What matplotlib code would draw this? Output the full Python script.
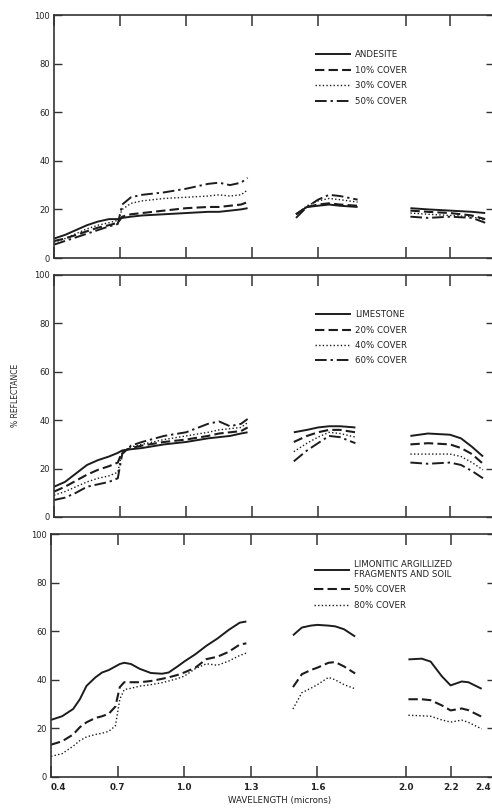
import numpy as np
import matplotlib
matplotlib.use("Agg")
import matplotlib.pyplot as plt

plt.rcParams['font.family'] = ['DejaVu Sans']

# ---- panel 1: andesite ----
p1_wl_a = [0.40, 0.45, 0.50, 0.55, 0.60, 0.65, 0.69, 0.71, 0.75, 0.80, 0.90, 1.00, 1.10, 1.15, 1.20, 1.25, 1.28]
p1_wl_b = [1.50, 1.55, 1.60, 1.65, 1.70, 1.78]
p1_wl_c = [2.02, 2.10, 2.20, 2.30, 2.36]
andesite = [[8, 9.5, 11.5, 13.5, 15, 16, 16, 16.5, 17, 17.5, 18, 18.5, 19, 19, 19.5, 20, 20.5],
            [18, 21, 21.5, 22, 21.5, 21],
            [20.5, 20, 19.5, 19, 18.5]]
andesite_10 = [[7, 8, 9.5, 11, 12.5, 13.5, 14.5, 17, 18, 18.5, 19.5, 20.5, 21, 21, 21.5, 22, 23],
               [18, 21, 22, 22.5, 22, 21.5],
               [19.5, 19, 18.5, 17.5, 16]]
andesite_30 = [[6.5, 8, 10, 12, 13.5, 14.5, 15.5, 20, 22.5, 23.5, 24.5, 25, 25.5, 26, 25.5, 26, 28],
               [18, 21.5, 23.5, 24.5, 24, 23],
               [18.5, 18, 17.5, 17, 15.5]]
andesite_50 = [[5.5, 7, 8.5, 10, 11.5, 13, 14, 22, 25, 26, 27, 28.5, 30.5, 31, 30, 31, 33],
               [16.5, 21, 24, 26, 25.5, 24],
               [17, 16.5, 17, 16.5, 14.5]]
p1_labels = ['ANDESITE', '10% COVER', '30% COVER', '50% COVER']

# ---- panel 2: limestone ----
p2_wl_a = [0.40, 0.45, 0.50, 0.55, 0.60, 0.65, 0.69, 0.71, 0.75, 0.80, 0.90, 1.00, 1.10, 1.15, 1.20, 1.25, 1.28]
p2_wl_b = [1.49, 1.55, 1.60, 1.65, 1.70, 1.77]
p2_wl_c = [2.02, 2.10, 2.20, 2.25, 2.30, 2.35]
limestone = [[12.5, 14.5, 18, 21.5, 23.5, 25, 26.5, 27.5, 28, 28.5, 30, 31, 32.5, 33, 33.5, 34.5, 35],
             [35, 36, 37, 37.5, 37.5, 37],
             [33.5, 34.5, 34, 32.5, 29, 25]]
limestone_20 = [[10.5, 12.5, 15, 17.5, 19.5, 21, 22.5, 27, 28.5, 29.5, 31, 32, 33.5, 34.5, 35, 35.5, 37],
                [31, 33.5, 35, 36, 36, 35],
                [30, 30.5, 30, 28.5, 26, 22]]
limestone_40 = [[9, 10.5, 12.5, 14.5, 16, 17, 18.5, 27, 29, 30, 32, 33.5, 35, 36, 36.5, 37, 39],
                [27, 30.5, 33, 35, 34.5, 33],
                [26, 26, 26, 25, 22.5, 19.5]]
limestone_60 = [[7, 8, 10, 12.5, 13.5, 14.5, 16, 26, 29.5, 31, 33.5, 35, 38.5, 39.5, 37.5, 38.5, 40.5],
                [23, 27.5, 30.5, 33.5, 33, 30.5],
                [22.5, 22, 22.5, 21.5, 19, 16]]
p2_labels = ['LIMESTONE', '20% COVER', '40% COVER', '60% COVER']

# ---- panel 3: limonitic argillized fragments ----
p3_wl_a = [0.40, 0.45, 0.50, 0.53, 0.56, 0.60, 0.63, 0.66, 0.69, 0.71, 0.73, 0.76, 0.80, 0.85,
           0.90, 0.93, 0.97, 1.00, 1.05, 1.10, 1.15, 1.20, 1.25, 1.28]
p3_wl_b = [1.49, 1.53, 1.57, 1.60, 1.65, 1.68, 1.72, 1.77]
p3_wl_c = [2.01, 2.07, 2.11, 2.16, 2.20, 2.25, 2.28, 2.34]
limonitic = [[23.5, 25, 28, 32, 37.5, 41, 43, 44, 45.5, 46.5, 47, 46.5, 44.5, 42.8,
              42.5, 43, 45.5, 47.5, 50.5, 54, 57, 60.5, 63.5, 64],
             [58.3, 61.5, 62.3, 62.6, 62.3, 62, 60.8, 57.8],
             [48.4, 48.7, 47.5, 41.5, 37.7, 39.3, 39, 36.3]]
limonitic_50 = [[13.3, 14.7, 17.5, 20.5, 22.5, 24.3, 25, 26, 29, 37, 39, 39, 39, 39.5,
                 40.4, 41, 42, 43, 45, 48.5, 49.5, 51.5, 54.5, 55],
                [37, 42.3, 44, 45, 47, 47.3, 45.5, 42.6],
                [32, 32, 31.6, 29.5, 27.4, 28.2, 27.5, 24.8]]
limonitic_80 = [[8.5, 9.6, 12.7, 15, 16.5, 17.5, 18, 18.8, 21, 32, 36, 36.5, 37.4, 38,
                 38.8, 39.5, 40.5, 41.5, 44.6, 46.6, 46, 47.7, 50, 51],
                [28, 34.7, 36.5, 38, 41, 40, 38, 36.3],
                [25.4, 25.2, 25, 23.5, 22.6, 23.4, 22.5, 19.8]]
p3_labels = ['LIMONITIC ARGILLIZED\nFRAGMENTS AND SOIL', '50% COVER', '80% COVER']

xtick_vals = [0.4, 0.7, 1.0, 1.3, 1.6, 2.0, 2.2, 2.4]
xtick_labels = ['0.4', '0.7', '1.0', '1.3', '1.6', '2.0', '2.2', '2.4']
ytick_vals = [0, 20, 40, 60, 80, 100]

ink = '#1c1c1c'
styles = [dict(ls='-', lw=1.4),
          dict(ls=(0, (4.5, 2)), lw=1.5),
          dict(ls=(0, (1, 1.6)), lw=1.0),
          dict(ls=(0, (6, 2, 1.2, 2)), lw=1.4)]

W, H = 492, 808
fig = plt.figure(figsize=(W / 100, H / 100), dpi=100)

panels = [
    ((54, 15, 494, 258), [p1_wl_a, p1_wl_b, p1_wl_c],
     [andesite, andesite_10, andesite_30, andesite_50], p1_labels, (0.593, 0.855)),
    ((54, 275, 494, 517), [p2_wl_a, p2_wl_b, p2_wl_c],
     [limestone, limestone_20, limestone_40, limestone_60], p2_labels, (0.593, 0.855)),
    ((51, 534, 495, 777), [p3_wl_a, p3_wl_b, p3_wl_c],
     [limonitic, limonitic_50, limonitic_80], p3_labels, (0.592, 0.895)),
]

axes = []
for i, (box, wls, series, labels, lpos) in enumerate(panels):
    x0, y0, x1, y1 = box
    ax = fig.add_axes([x0 / W, 1 - y1 / H, (x1 - x0) / W, (y1 - y0) / H])
    for k, (s, lab) in enumerate(zip(series, labels)):
        for j, (wl, vals) in enumerate(zip(wls, s)):
            ax.plot(wl, vals, color=ink, label=lab if j == 0 else None,
                    solid_capstyle='butt', dash_capstyle='butt', **styles[k])
    ax.set_xlim(0.4, 2.4)
    ax.set_ylim(0, 100)
    ax.set_xticks(xtick_vals)
    ax.set_yticks(ytick_vals)
    ax.set_yticklabels([str(v) for v in ytick_vals], fontsize=6, color='#222222')
    if i == 2:
        # the last label runs off the page edge, so it is drawn separately below
        tl = ax.set_xticklabels(xtick_labels[:-1] + [''], fontsize=6.3, color='#222222',
                                fontweight='bold')
        tl[0].set_ha('left')
        ax.annotate(xtick_labels[-1], xy=(xtick_vals[-1], 0), xycoords='data',
                    xytext=(-3, -4), textcoords='offset points', ha='right', va='top',
                    fontsize=6.3, color='#222222', fontweight='bold', annotation_clip=False)
    else:
        ax.set_xticklabels([])
    ax.tick_params(axis='x', direction='in', top=True, bottom=True, length=8, width=1.1,
                   color='#333333', pad=4)
    ax.tick_params(axis='y', direction='in', left=True, right=True, length=6, width=1.0,
                   color='#333333', pad=3)
    for sp in ax.spines.values():
        sp.set_linewidth(1.2)
        sp.set_color('#333333')
    leg = ax.legend(loc='upper left', bbox_to_anchor=lpos, frameon=False, fontsize=6.2,
                    handlelength=4.2, handletextpad=0.5, labelspacing=0.75,
                    borderpad=0, borderaxespad=0)
    for t in leg.get_texts():
        t.set_color('#222222')
    axes.append(ax)

fig.text(15 / W, 1 - 395 / H, '% REFLECTANCE', rotation=90, ha='center', va='center',
         fontsize=5.5, color='#222222')
fig.text(280 / W, 1 - 800 / H, 'WAVELENGTH (microns)', ha='center', va='center',
         fontsize=6.2, color='#222222')

fig.savefig('out.png', dpi=100)
